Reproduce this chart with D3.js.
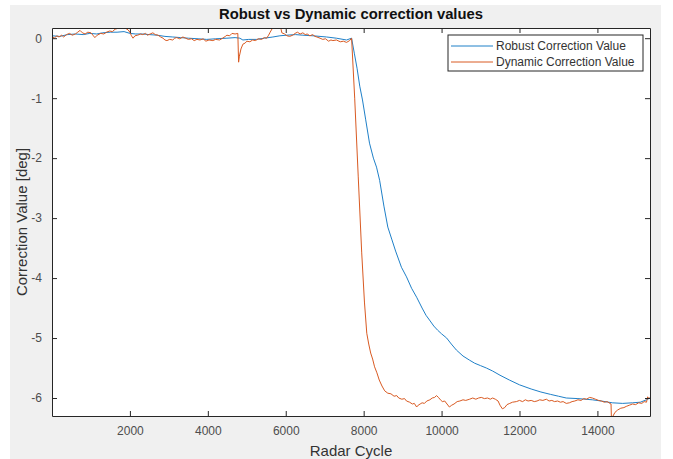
<!DOCTYPE html>
<html>
<head>
<meta charset="utf-8">
<script src="https://cdn.jsdelivr.net/npm/d3@7"></script>
<style>
  body { margin: 0; background: #fff; }
  svg { display: block; font-family: "Liberation Sans", Arial, sans-serif; }
</style>
</head>
<body>
<div id="container1"></div>
<script>
// data
var robustX = [0, 200, 400, 600, 800, 970, 1150, 1300, 1500, 1670, 1850, 2000, 2150, 2330, 2500, 2700, 2900, 3100, 3300, 3500, 3750, 3970,
  4200, 4490, 4700, 4820, 4900, 5050, 5250, 5450, 5670, 5850, 6020, 6250, 6440, 6700, 7050, 7300, 7560, 7690,
  7760, 7830, 7900, 7970, 8050, 8150, 8250, 8330, 8410, 8520, 8620, 8720, 8820, 8970, 9100, 9230, 9360, 9500, 9600, 9690, 9800, 9900,
  10000, 10130, 10250, 10380, 10550, 10720, 10850, 11000, 11150, 11310, 11500, 11740, 12000, 12300, 12550, 12800, 13000, 13200,
  13500, 13870, 14100, 14380, 14650, 14900, 15100, 15260, 15350];
var robustY = [0.04, 0.03, 0.06, 0.07, 0.06, 0.08, 0.07, 0.09, 0.1, 0.1, 0.11, 0.08, 0.07, 0.07, 0.06, 0.05, 0.03, 0.02, 0.01, 0.0, -0.01, -0.02,
  -0.01, 0.0, 0.01, 0.0, -0.03, -0.02, -0.02, 0.0, 0.02, 0.04, 0.05, 0.06, 0.05, 0.04, 0.02, 0.0, -0.03, 0.0,
  -0.25, -0.5, -0.8, -1.03, -1.35, -1.75, -2.0, -2.15, -2.37, -2.8, -3.15, -3.35, -3.55, -3.82, -3.98, -4.17, -4.32, -4.5, -4.62, -4.7, -4.8, -4.87,
  -4.93, -5.0, -5.1, -5.2, -5.3, -5.37, -5.42, -5.46, -5.5, -5.55, -5.62, -5.7, -5.78, -5.85, -5.9, -5.94, -5.97, -6.0,
  -6.01, -6.03, -6.05, -6.08, -6.09, -6.08, -6.07, -6.03, -6.0];

var dynamicX = [0, 60, 120, 180, 250, 300, 370, 450, 520, 600, 660, 720, 780, 850, 920, 1000, 1050, 1100, 1160, 1250, 1330, 1400, 1480,
  1550, 1620, 1670, 1750, 1820, 1900, 1950, 2000, 2040, 2080, 2130, 2200, 2270, 2330, 2400, 2450, 2520, 2590, 2650, 2720, 2790, 2850,
  2900, 2950, 3020, 3100, 3150, 3200, 3280, 3360, 3430, 3500, 3580, 3650, 3720, 3800, 3880, 3950, 4030, 4130, 4200, 4300, 4380, 4450,
  4490, 4560, 4620, 4700, 4770, 4790, 4810, 4850, 4900, 4960, 5000, 5080, 5150, 5220, 5300, 5380, 5450, 5510, 5560, 5600, 5670, 5720,
  5780, 5850, 5880, 5900, 5970, 6030, 6100, 6180, 6240, 6300, 6370, 6440, 6500, 6550, 6620, 6690, 6750, 6800, 6880, 6950, 7020, 7100,
  7160, 7210, 7300, 7400, 7480, 7560, 7640, 7690,
  7770, 7860, 7950, 8020, 8080, 8130, 8180, 8230, 8280, 8340, 8400, 8470,
  8540, 8620, 8700, 8780, 8850, 8900, 8980, 9050, 9100, 9180, 9250, 9300, 9360, 9400, 9450, 9500, 9560, 9620, 9700, 9760, 9820, 9870,
  9920, 9970, 10020, 10080, 10140, 10200, 10260, 10320, 10400, 10470, 10550, 10620, 10720, 10800, 10880, 10950, 11020, 11100, 11180,
  11250, 11310, 11380, 11450, 11500, 11560, 11620, 11680, 11750, 11820, 11920, 12000, 12080, 12150, 12220, 12300, 12380, 12450, 12520,
  12600, 12690, 12760, 12830, 12900, 12980, 13050, 13120, 13200, 13280, 13350, 13420, 13500, 13580, 13650, 13720, 13800, 13870, 13950,
  14030, 14100, 14180, 14250, 14320, 14350, 14360, 14400, 14450, 14520, 14600, 14680, 14740, 14820, 14900, 14980, 15060, 15140, 15200,
  15260, 15290, 15320, 15350];
var dynamicY = [0.03, 0.0, 0.04, 0.02, 0.05, 0.02, 0.06, 0.08, 0.05, 0.07, 0.1, 0.13, 0.09, 0.07, 0.1, 0.09, 0.05, 0.01, 0.05, 0.08, 0.07, 0.1, 0.12,
  0.11, 0.15, 0.16, 0.18, 0.19, 0.16, 0.14, 0.1, 0.04, 0.0, 0.04, 0.05, 0.07, 0.06, 0.08, 0.05, 0.07, 0.09, 0.06, 0.05, 0.02, 0.0,
  -0.03, -0.04, -0.02, -0.03, 0.0, 0.01, -0.01, 0.02, 0.0, -0.02, -0.01, -0.04, -0.02, -0.03, -0.01, -0.05, -0.03, -0.04, -0.02, -0.03, 0.0, 0.03,
  0.05, 0.04, 0.08, 0.07, 0.08, -0.4, -0.3, -0.18, -0.1, -0.08, -0.05, -0.06, -0.03, -0.04, -0.01, -0.02, 0.01, 0.0, 0.05, 0.1, 0.18, 0.22,
  0.24, 0.22, 0.15, 0.09, 0.07, 0.04, 0.03, 0.05, 0.08, 0.1, 0.07, 0.09, 0.06, 0.07, 0.04, 0.06, 0.03, 0.02, 0.0, -0.02, -0.01, -0.05,
  -0.03, -0.04, -0.03, -0.06, -0.05, -0.07, -0.04, 0.0,
  -1.0, -2.3, -3.58, -4.4, -4.92, -5.1, -5.25, -5.35, -5.48, -5.58, -5.7, -5.8,
  -5.88, -5.92, -5.93, -5.97, -5.96, -6.0, -6.02, -6.01, -6.05, -6.07, -6.1, -6.09, -6.15, -6.12, -6.1, -6.08, -6.09, -6.05, -6.03, -6.0, -5.99, -5.96,
  -5.99, -6.03, -6.06, -6.05, -6.1, -6.15, -6.12, -6.1, -6.06, -6.05, -6.03, -6.04, -6.02, -6.0, -6.02, -6.0, -5.99, -6.01, -6.0,
  -6.02, -6.0, -6.02, -6.05, -6.12, -6.18, -6.16, -6.11, -6.09, -6.07, -6.06, -6.04, -6.06, -6.03, -6.05, -6.04, -6.06, -6.05, -6.03,
  -6.04, -6.02, -6.05, -6.04, -6.06, -6.05, -6.07, -6.06, -6.09, -6.08, -6.06, -6.05, -6.03, -6.04, -6.01, -6.02, -5.99, -6.0, -6.02,
  -6.04, -6.05, -6.07, -6.06, -6.09, -6.1, -6.35, -6.3, -6.24, -6.2, -6.17, -6.16, -6.14, -6.12, -6.1, -6.11, -6.08, -6.09, -6.06,
  -6.07, -5.98, -6.01, -5.99];

var xTicks = [2000, 4000, 6000, 8000, 10000, 12000, 14000];
var yTicks = [0, -1, -2, -3, -4, -5, -6];
var seriesNames = ['Robust Correction Value', 'Dynamic Correction Value'];
var seriesColors = ['#1f80c8', '#d95a22'];

var W = 673, H = 459;
var plot = {left: 52, top: 28, right: 650, bottom: 416};

var svg = d3.select('#container1').append('svg').attr('width', W).attr('height', H);

// matlab grey figure background
svg.append('rect').attr('x', 10).attr('y', 5).attr('width', 651).attr('height', H - 5).attr('fill', '#f0f0f0');
svg.append('rect').attr('x', plot.left).attr('y', plot.top)
  .attr('width', plot.right - plot.left).attr('height', plot.bottom - plot.top).attr('fill', '#fff');

var x = d3.scaleLinear().domain([0, 15350]).range([plot.left, plot.right]);
var y = d3.scaleLinear().domain([-6.3, 0.17]).range([plot.bottom, plot.top]);

svg.append('clipPath').attr('id', 'clip').append('rect')
  .attr('x', plot.left).attr('y', plot.top)
  .attr('width', plot.right - plot.left).attr('height', plot.bottom - plot.top);

var line = d3.line().x(function (d) { return x(d[0]); }).y(function (d) { return y(d[1]); });

var robust = d3.zip(robustX, robustY);
var dynamic = d3.zip(dynamicX, dynamicY);

var lines = svg.append('g').attr('clip-path', 'url(#clip)');
lines.append('path').datum(robust).attr('d', line)
  .attr('fill', 'none').attr('stroke', seriesColors[0]).attr('stroke-width', 1);
lines.append('path').datum(dynamic).attr('d', line)
  .attr('fill', 'none').attr('stroke', seriesColors[1]).attr('stroke-width', 1);

// axes, ticks inward on all four sides
var axisColor = '#262626';
var bottomAxis = svg.append('g').attr('transform', 'translate(0,' + plot.bottom + ')')
  .call(d3.axisBottom(x).tickValues(xTicks).tickSizeInner(-5).tickSizeOuter(0).tickPadding(10).tickFormat(d3.format('d')));
var topAxis = svg.append('g').attr('transform', 'translate(0,' + plot.top + ')')
  .call(d3.axisTop(x).tickValues(xTicks).tickSizeInner(-5).tickSizeOuter(0).tickFormat(''));
var leftAxis = svg.append('g').attr('transform', 'translate(' + plot.left + ',0)')
  .call(d3.axisLeft(y).tickValues(yTicks).tickSizeInner(-5).tickSizeOuter(0).tickPadding(10));
var rightAxis = svg.append('g').attr('transform', 'translate(' + plot.right + ',0)')
  .call(d3.axisRight(y).tickValues(yTicks).tickSizeInner(-5).tickSizeOuter(0).tickFormat(''));

[bottomAxis, topAxis, leftAxis, rightAxis].forEach(function (a) {
  a.select('.domain').attr('stroke', axisColor);
  a.selectAll('.tick line').attr('stroke', axisColor);
  a.selectAll('.tick text').attr('fill', '#4d4d4d').style('font-size', '12px')
    .style('font-family', '"Liberation Sans", Arial, sans-serif');
});
leftAxis.selectAll('.tick text').text(function (d) { return d === 0 ? '0' : '-' + Math.abs(d); });

// title and axis labels
svg.append('text').attr('x', (plot.left + plot.right) / 2).attr('y', 19)
  .attr('text-anchor', 'middle').attr('font-weight', 'bold').attr('font-size', 14.8).attr('fill', '#111')
  .text('Robust vs Dynamic correction values');
svg.append('text').attr('x', (plot.left + plot.right) / 2).attr('y', 456)
  .attr('text-anchor', 'middle').attr('font-size', 15).attr('fill', '#333')
  .text('Radar Cycle');
svg.append('text').attr('transform', 'translate(27,' + (plot.top + plot.bottom) / 2 + ') rotate(-90)')
  .attr('text-anchor', 'middle').attr('font-size', 15).attr('fill', '#333')
  .text('Correction Value [deg]');

// legend
var legend = svg.append('g').attr('transform', 'translate(448,35)');
legend.append('rect').attr('width', 195).attr('height', 36)
  .attr('fill', '#fff').attr('stroke', axisColor).attr('stroke-width', 1);
seriesNames.forEach(function (name, i) {
  var ly = 11 + i * 16;
  legend.append('line').attr('x1', 3).attr('x2', 45).attr('y1', ly).attr('y2', ly)
    .attr('stroke', seriesColors[i]).attr('stroke-width', 1);
  legend.append('text').attr('x', 48).attr('y', ly + 4).attr('font-size', 12).attr('fill', '#333').text(name);
});
</script>
</body>
</html>
